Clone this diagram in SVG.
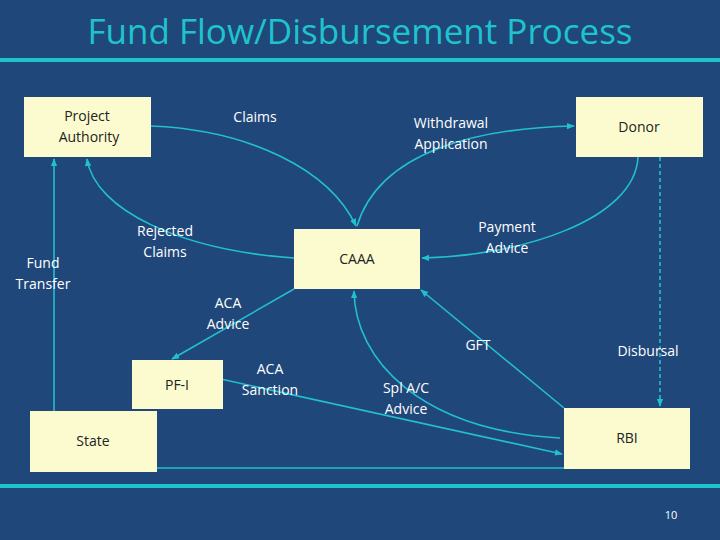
<svg xmlns="http://www.w3.org/2000/svg" width="720" height="540" viewBox="0 0 720 540">
<defs>
<marker id="ah" viewBox="0 0 10 10" refX="9" refY="5" markerWidth="5" markerHeight="5" orient="auto"><path d="M0,1 L10,5 L0,9 z" fill="#22bfd0"/></marker>
<style>
.b{fill:#fcfbd0}
.t{font-family:"Open Sans","Liberation Sans",sans-serif;font-size:14px;fill:#222;text-anchor:middle}
.w{font-family:"Open Sans","Liberation Sans",sans-serif;font-size:14px;fill:#fff;text-anchor:middle}
.c{fill:none;stroke:#22bfd0;stroke-width:1.6;marker-end:url(#ah)}
.n{fill:none;stroke:#22bfd0;stroke-width:1.6}
</style>
</defs>
<rect width="720" height="540" fill="#1f477a"/>
<text x="360" y="44" font-family="Open Sans, Liberation Sans, sans-serif" font-size="35" fill="#1fc3cc" text-anchor="middle">Fund Flow/Disbursement Process</text>
<rect x="0" y="58" width="720" height="4" fill="#1fc3cc"/>
<rect x="0" y="484" width="720" height="4" fill="#1fc3cc"/>
<text x="671" y="519" font-family="Open Sans, Liberation Sans, sans-serif" font-size="11" fill="#fff" text-anchor="middle">10</text>
<g id="connectors">
<path class="c" d="M151,126 C250,130 330,170 356,226"/>
<path class="c" d="M357,226 C380,150 480,128 574,126"/>
<path class="c" d="M294,258 C180,250 95,210 87,159"/>
<path class="c" d="M638,157 C635,220 520,256 422,258"/>
<path class="c" d="M660,157 L660,406" stroke-dasharray="4,3"/>
<path class="c" d="M54,411 L54,159"/>
<path class="c" d="M294,289 L172,359"/>
<path class="c" d="M216,378 L562,454"/>
<path class="c" d="M560,438 C420,430 355,360 354,291"/>
<path class="c" d="M564,408 L421,290"/>
<path class="n" d="M157,468 L564,468"/>
</g>
<g id="project-authority"><rect class="b" x="24" y="97" width="127" height="60"/><text class="t" x="87" y="121">Project</text><text class="t" x="89" y="142">Authority</text></g>
<g id="donor"><rect class="b" x="576" y="97" width="127" height="60"/><text class="t" x="639" y="132">Donor</text></g>
<g id="caaa"><rect class="b" x="294" y="229" width="126" height="60"/><text class="t" x="357" y="264">CAAA</text></g>
<g id="pfi"><rect class="b" x="132" y="360" width="91" height="49"/><text class="t" x="177" y="390">PF-I</text></g>
<g id="state"><rect class="b" x="30" y="411" width="127" height="61"/><text class="t" x="93" y="446">State</text></g>
<g id="rbi"><rect class="b" x="564" y="408" width="126" height="61"/><text class="t" x="627" y="443">RBI</text></g>
<g id="labels">
<text class="w" x="255" y="122">Claims</text>
<text class="w" x="451" y="128">Withdrawal</text><text class="w" x="451" y="149">Application</text>
<text class="w" x="165" y="236">Rejected</text><text class="w" x="165" y="257">Claims</text>
<text class="w" x="43" y="268">Fund</text><text class="w" x="43" y="289">Transfer</text>
<text class="w" x="507" y="232">Payment</text><text class="w" x="507" y="253">Advice</text>
<text class="w" x="228" y="308">ACA</text><text class="w" x="228" y="329">Advice</text>
<text class="w" x="478" y="350">GFT</text>
<text class="w" x="648" y="356">Disbursal</text>
<text class="w" x="270" y="374">ACA</text><text class="w" x="270" y="395">Sanction</text>
<text class="w" x="406" y="393">Spl A/C</text><text class="w" x="406" y="414">Advice</text>
</g>
</svg>
